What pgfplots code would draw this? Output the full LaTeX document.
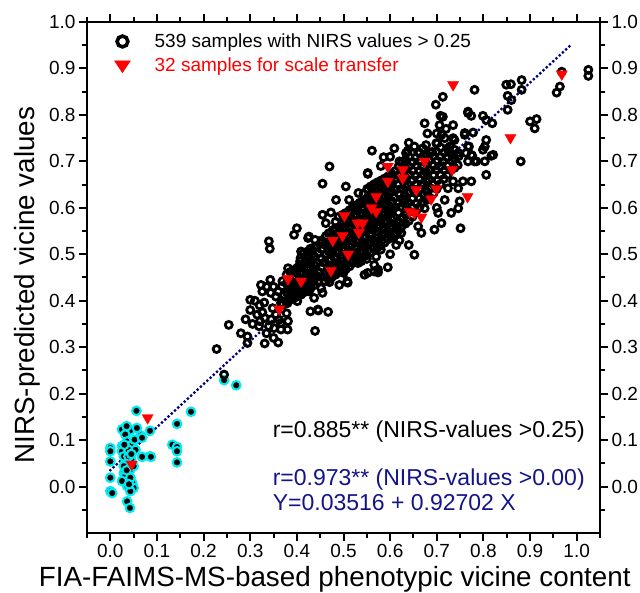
\documentclass[border=0pt]{standalone}
\usepackage{fontspec}
\setmainfont{Liberation Sans}
\usepackage{pgfplots}
\pgfplotsset{compat=1.18}
\definecolor{navy}{RGB}{20,20,135}
\definecolor{linenavy}{RGB}{0,0,130}
\definecolor{ringcyan}{RGB}{0,235,240}
\begin{document}
\begin{tikzpicture}
\path[use as bounding box] (-87pt,-59pt) rectangle (553pt,533pt);
\pgfplotsset{
  commonax/.style={
    at={(0pt,0pt)}, anchor=south west,
    scale only axis, width=513pt, height=511pt,
    xmin=-0.05, xmax=1.05, ymin=-0.1, ymax=1.0,
    ytick={0,0.1,...,1.0},
    minor ytick={-0.05,0.05,...,0.95},
    tick align=outside,
    major tick length=8pt, minor tick length=5pt,
    axis line style={line width=2.5pt},
    tick style={line width=2pt, black},
    ticklabel style={font=\fontsize{19}{22}\selectfont},
    /pgf/number format/.cd, fixed, fixed zerofill, precision=1, assume math mode=true,
  }
}
\begin{axis}[commonax,
  xtick={0,0.1,...,1.0},
  minor xtick={-0.05,0.05,...,1.05},
  tick pos=both,
  xticklabel pos=left, yticklabel pos=left,
  xlabel={FIA-FAIMS-MS-based phenotypic vicine content},
  ylabel={NIRS-predicted vicine values},
  xlabel style={font=\fontsize{27.8}{31}\selectfont, at={(axis description cs:0.483,-0.090)}, anchor=center},
  ylabel style={font=\fontsize{27.8}{31}\selectfont, at={(axis description cs:-0.117,0.485)}, anchor=center},
  legend style={at={(axis description cs:0.045,0.985)}, anchor=north west, draw=none, fill=none,
    font=\fontsize{19}{22}\selectfont, row sep=5pt},
  legend cell align=left,
]
% NIRS values below 0.25 (cyan ring)
\addplot[only marks, mark=*, mark size=4.3pt, mark options={draw=ringcyan, fill=black, line width=2.1pt}, forget plot] table {
x y
0.056 0.163
0.173 0.161
0.143 0.135
0.025 0.123
0.043 0.121
0.032 0.112
0.065 0.110
0.085 0.120
0.000 0.083
0.000 0.076
0.000 0.054
0.025 0.087
0.036 0.097
0.047 0.090
0.052 0.101
0.068 0.105
0.085 0.065
0.068 0.064
0.045 0.058
0.032 0.051
0.043 0.037
0.029 0.029
0.039 0.019
0.047 0.008
0.036 0.001
0.050 -0.003
0.000 0.019
0.000 -0.010
0.004 -0.014
0.043 -0.010
0.036 -0.032
0.042 -0.046
0.133 0.090
0.143 0.085
0.143 0.076
0.143 0.052
0.025 0.076
0.029 0.065
0.039 0.065
0.032 0.023
0.025 0.012
0.043 0.019
0.050 0.044
0.057 0.126
0.039 0.079
0.029 0.044
0.054 0.079
0.087 0.064
0.035 0.035
0.040 0.005
0.030 0.090
0.045 0.070
0.035 0.130
0.244 0.229
0.270 0.218
};
% 539 samples with NIRS values > 0.25
\addplot[only marks, mark=o, mark size=3.5pt, mark options={draw=black, line width=2.8pt},
  legend image code/.code={\path (-9pt,0pt) (30pt,0pt); \draw[black, line width=3.6pt] (0pt,0pt) circle (5.4pt);}] table {
x y
0.300 0.402
0.254 0.348
0.228 0.296
0.294 0.323
0.294 0.309
0.331 0.308
0.244 0.241
0.323 0.434
0.343 0.445
0.326 0.420
0.344 0.417
0.330 0.396
0.348 0.384
0.326 0.375
0.331 0.363
0.321 0.356
0.319 0.345
0.340 0.345
0.351 0.341
0.366 0.338
0.378 0.373
0.381 0.356
0.362 0.359
0.366 0.395
0.355 0.409
0.369 0.442
0.401 0.399
0.409 0.413
0.429 0.377
0.439 0.335
0.445 0.381
0.437 0.406
0.387 0.427
0.409 0.434
0.394 0.452
0.423 0.456
0.446 0.379
0.467 0.376
0.381 0.470
0.405 0.475
0.491 0.434
0.509 0.439
0.531 0.481
0.566 0.477
0.595 0.472
0.574 0.461
0.552 0.460
0.452 0.427
0.455 0.417
0.380 0.395
0.366 0.352
0.380 0.338
0.426 0.420
0.340 0.528
0.342 0.512
0.280 0.330
0.290 0.360
0.300 0.380
0.310 0.400
0.320 0.390
0.335 0.430
0.350 0.430
0.360 0.420
0.355 0.370
0.345 0.360
0.315 0.370
0.305 0.350
0.335 0.330
0.350 0.320
0.360 0.310
0.394 0.542
0.400 0.556
0.424 0.535
0.439 0.531
0.455 0.585
0.473 0.590
0.462 0.567
0.452 0.524
0.409 0.506
0.437 0.495
0.407 0.485
0.423 0.467
0.512 0.617
0.532 0.632
0.552 0.623
0.574 0.467
0.545 0.456
0.613 0.520
0.613 0.546
0.617 0.567
0.584 0.553
0.556 0.524
0.570 0.495
0.538 0.485
0.674 0.782
0.706 0.778
0.735 0.778
0.710 0.757
0.760 0.757
0.778 0.762
0.561 0.723
0.586 0.709
0.634 0.718
0.652 0.732
0.677 0.735
0.699 0.739
0.728 0.732
0.746 0.718
0.767 0.700
0.785 0.700
0.735 0.657
0.756 0.657
0.774 0.657
0.746 0.642
0.724 0.642
0.749 0.614
0.746 0.599
0.731 0.589
0.751 0.556
0.552 0.675
0.552 0.639
0.609 0.728
0.631 0.617
0.674 0.599
0.703 0.589
0.717 0.617
0.695 0.553
0.710 0.567
0.667 0.546
0.624 0.546
0.767 0.732
1.025 0.897
1.025 0.884
0.964 0.861
0.957 0.848
0.968 0.893
0.882 0.875
0.882 0.854
0.849 0.865
0.859 0.866
0.852 0.841
0.860 0.832
0.852 0.811
0.781 0.854
0.713 0.839
0.767 0.807
0.774 0.798
0.799 0.798
0.806 0.789
0.819 0.782
0.900 0.786
0.914 0.791
0.910 0.771
0.760 0.761
0.738 0.746
0.717 0.750
0.806 0.746
0.803 0.732
0.799 0.725
0.769 0.732
0.763 0.718
0.776 0.712
0.817 0.712
0.803 0.700
0.880 0.700
0.724 0.725
0.713 0.796
0.698 0.822
0.708 0.798
0.767 0.804
0.470 0.689
0.638 0.723
0.455 0.652
0.505 0.646
0.484 0.617
0.426 0.538
0.652 0.499
0.806 0.671
0.821 0.714
0.774 0.714
0.566 0.463
0.508 0.442
0.445 0.452
0.552 0.673
0.701 0.739
0.735 0.750
0.781 0.700
0.620 0.700
0.660 0.720
0.690 0.720
0.640 0.740
0.580 0.690
0.600 0.710
0.700 0.760
0.720 0.770
0.680 0.760
0.600 0.500
0.640 0.520
0.660 0.560
0.700 0.600
0.680 0.620
0.620 0.530
0.550 0.490
0.500 0.460
0.470 0.440
0.580 0.510
0.370 0.392
0.372 0.413
0.368 0.431
0.385 0.402
0.387 0.421
0.383 0.441
0.386 0.462
0.400 0.409
0.402 0.431
0.398 0.452
0.401 0.471
0.415 0.418
0.417 0.441
0.413 0.462
0.416 0.481
0.414 0.502
0.430 0.428
0.432 0.452
0.428 0.471
0.431 0.489
0.429 0.512
0.445 0.441
0.447 0.462
0.443 0.481
0.446 0.502
0.444 0.518
0.460 0.442
0.462 0.461
0.458 0.482
0.461 0.500
0.459 0.521
0.462 0.539
0.475 0.451
0.477 0.472
0.473 0.489
0.476 0.512
0.474 0.531
0.477 0.552
0.490 0.462
0.492 0.479
0.488 0.502
0.491 0.521
0.489 0.541
0.492 0.559
0.490 0.581
0.505 0.468
0.507 0.491
0.503 0.512
0.506 0.529
0.504 0.552
0.507 0.571
0.505 0.589
0.520 0.481
0.522 0.499
0.518 0.521
0.521 0.542
0.519 0.559
0.522 0.582
0.520 0.601
0.535 0.492
0.537 0.509
0.533 0.531
0.536 0.551
0.534 0.572
0.537 0.589
0.535 0.611
0.550 0.498
0.552 0.521
0.548 0.539
0.551 0.561
0.549 0.579
0.552 0.602
0.550 0.619
0.551 0.641
0.565 0.512
0.567 0.529
0.563 0.552
0.566 0.571
0.564 0.589
0.567 0.612
0.565 0.629
0.566 0.651
0.580 0.519
0.582 0.541
0.578 0.562
0.581 0.579
0.579 0.601
0.582 0.622
0.580 0.641
0.581 0.659
0.595 0.532
0.597 0.549
0.593 0.572
0.596 0.591
0.594 0.609
0.597 0.631
0.595 0.652
0.596 0.668
0.610 0.541
0.612 0.562
0.608 0.579
0.611 0.601
0.609 0.622
0.612 0.639
0.610 0.661
0.611 0.679
0.625 0.561
0.627 0.579
0.623 0.602
0.626 0.619
0.624 0.641
0.627 0.659
0.625 0.681
0.626 0.698
0.640 0.572
0.642 0.592
0.638 0.611
0.641 0.632
0.639 0.649
0.642 0.671
0.640 0.689
0.641 0.709
0.655 0.591
0.657 0.609
0.653 0.632
0.656 0.651
0.654 0.669
0.657 0.691
0.655 0.708
0.670 0.612
0.672 0.629
0.668 0.651
0.671 0.672
0.669 0.689
0.672 0.711
0.670 0.728
0.685 0.622
0.687 0.642
0.683 0.661
0.686 0.681
0.684 0.702
0.687 0.719
0.700 0.641
0.702 0.659
0.698 0.682
0.701 0.701
0.699 0.721
0.715 0.662
0.717 0.681
0.713 0.699
0.716 0.719
0.730 0.681
0.732 0.702
0.728 0.719
0.745 0.692
0.747 0.711
0.378 0.397
0.378 0.418
0.378 0.437
0.378 0.456
0.393 0.405
0.393 0.426
0.393 0.447
0.393 0.466
0.408 0.414
0.408 0.436
0.408 0.457
0.408 0.476
0.408 0.492
0.423 0.423
0.423 0.446
0.423 0.466
0.423 0.485
0.423 0.506
0.438 0.434
0.438 0.457
0.438 0.476
0.438 0.495
0.438 0.515
0.453 0.451
0.453 0.472
0.453 0.491
0.453 0.511
0.453 0.530
0.468 0.446
0.468 0.466
0.468 0.486
0.468 0.506
0.468 0.526
0.468 0.545
0.483 0.456
0.483 0.476
0.483 0.495
0.483 0.516
0.483 0.536
0.483 0.556
0.483 0.570
0.498 0.465
0.498 0.485
0.498 0.507
0.498 0.525
0.498 0.546
0.498 0.565
0.498 0.585
0.513 0.474
0.513 0.495
0.513 0.516
0.513 0.535
0.513 0.555
0.513 0.576
0.513 0.595
0.528 0.486
0.528 0.504
0.528 0.526
0.528 0.546
0.528 0.565
0.528 0.585
0.528 0.606
0.543 0.495
0.543 0.515
0.543 0.535
0.543 0.556
0.543 0.575
0.543 0.596
0.543 0.615
0.543 0.630
0.558 0.505
0.558 0.525
0.558 0.545
0.558 0.566
0.558 0.584
0.558 0.606
0.558 0.624
0.558 0.646
0.573 0.515
0.573 0.535
0.573 0.557
0.573 0.575
0.573 0.595
0.573 0.617
0.573 0.635
0.573 0.655
0.588 0.525
0.588 0.545
0.588 0.567
0.588 0.585
0.588 0.605
0.588 0.626
0.588 0.646
0.588 0.663
0.603 0.536
0.603 0.555
0.603 0.575
0.603 0.596
0.603 0.615
0.603 0.635
0.603 0.656
0.603 0.673
0.618 0.551
0.618 0.570
0.618 0.590
0.618 0.610
0.618 0.631
0.618 0.650
0.618 0.670
0.618 0.689
0.633 0.566
0.633 0.585
0.633 0.606
0.633 0.625
0.633 0.645
0.633 0.665
0.633 0.685
0.633 0.703
0.648 0.581
0.648 0.600
0.648 0.621
0.648 0.641
0.648 0.660
0.648 0.680
0.648 0.699
0.663 0.601
0.663 0.620
0.663 0.641
0.663 0.661
0.663 0.680
0.663 0.700
0.663 0.718
0.678 0.617
0.678 0.635
0.678 0.656
0.678 0.676
0.678 0.695
0.678 0.715
0.693 0.631
0.693 0.650
0.693 0.671
0.693 0.691
0.693 0.711
0.708 0.651
0.708 0.670
0.708 0.690
0.708 0.710
0.708 0.730
0.723 0.671
0.723 0.690
0.723 0.709
0.723 0.728
0.738 0.686
0.738 0.706
0.738 0.725
};
% 32 samples for scale transfer
\addplot[only marks, mark=triangle*, mark size=6.5pt, mark options={rotate=180, fill=red, draw=red, line width=0.3pt},
  legend image code/.code={\path (-9pt,0pt) (30pt,0pt); \fill[red] (-8pt,5pt) -- (8pt,5pt) -- (0pt,-7pt) -- cycle;}] table {
x y
0.080 0.148
0.046 0.048
0.381 0.447
0.409 0.442
0.362 0.382
0.570 0.624
0.570 0.592
0.502 0.583
0.530 0.567
0.498 0.540
0.533 0.547
0.477 0.530
0.510 0.500
0.473 0.465
0.595 0.689
0.627 0.682
0.595 0.657
0.627 0.664
0.674 0.700
0.733 0.682
0.656 0.639
0.699 0.641
0.688 0.619
0.642 0.592
0.652 0.589
0.667 0.580
0.766 0.624
0.541 0.567
0.735 0.865
0.968 0.888
0.858 0.751
0.560 0.600
};
\addplot[linenavy, line width=3.2pt, dash pattern=on 0pt off 4.4pt, line cap=round, forget plot] coordinates {(0,0.03516) (0.99,0.9529)};
\legend{539 samples with NIRS values > 0.25, \textcolor{red}{32 samples for scale transfer}}
\node[anchor=west, inner sep=0pt, font=\fontsize{23}{26}\selectfont] at (axis cs:0.348,0.118) {r=0.885** (NIRS-values >0.25)};
\node[anchor=west, inner sep=0pt, font=\fontsize{23}{26}\selectfont, text=navy] at (axis cs:0.348,0.015) {r=0.973** (NIRS-values >0.00)};
\node[anchor=west, inner sep=0pt, font=\fontsize{23}{26}\selectfont, text=navy] at (axis cs:0.348,-0.034) {Y=0.03516 + 0.92702 X};
\end{axis}
\begin{axis}[commonax,
  axis x line=none, axis y line*=right,
  yticklabel pos=right,
]
\end{axis}
\end{tikzpicture}
\end{document}
